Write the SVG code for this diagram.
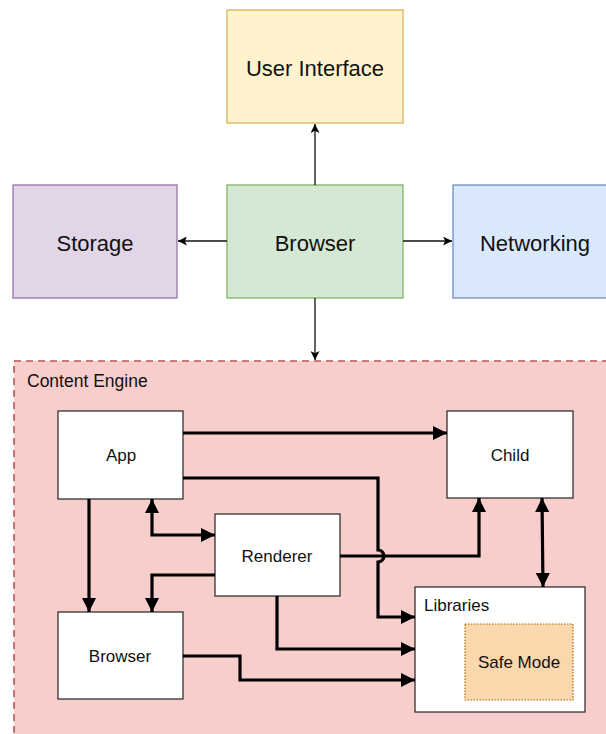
<svg xmlns="http://www.w3.org/2000/svg" width="606" height="734" viewBox="0 0 606 734">
<defs>
<style>
text{font-family:"Liberation Sans",Arial,sans-serif;fill:#111;}
.big{font-size:22px;text-anchor:middle;}
.sm{font-size:17px;text-anchor:middle;}
.lbl{font-size:17px;}
.box{fill:#fff;stroke:#333;stroke-width:1.3;}
.thin{fill:none;stroke:#111;stroke-width:1.3;}
.thick{fill:none;stroke:#000;stroke-width:3.2;stroke-linejoin:miter;}
</style>
<marker id="a" viewBox="0 0 10 10" refX="10" refY="5" markerWidth="10" markerHeight="9" markerUnits="userSpaceOnUse" orient="auto-start-reverse"><path d="M0,0 L10,5 L0,10 L2.5,5 Z" fill="#000"/></marker>
<marker id="b" viewBox="0 0 10 10" refX="10" refY="5" markerWidth="15" markerHeight="14" markerUnits="userSpaceOnUse" orient="auto-start-reverse"><path d="M0,0 L10,5 L0,10 Z" fill="#000"/></marker>
</defs>
<rect width="606" height="734" fill="#fff"/>
<g id="container">
<rect x="14" y="361" width="600" height="390" fill="#f8cecc" stroke="#b85450" stroke-width="1.6" stroke-dasharray="7,5"/>
<text class="lbl" x="27" y="387" style="font-size:17.5px">Content Engine</text>
</g>
<g id="ui"><rect x="227" y="10" width="176" height="113" fill="#fff2cc" stroke="#d6b656" stroke-width="1.3"/><text class="big" x="315" y="76">User Interface</text></g>
<g id="storage"><rect x="13" y="185" width="164" height="113" fill="#e1d5e7" stroke="#9673a6" stroke-width="1.3"/><text class="big" x="95" y="251">Storage</text></g>
<g id="browser-top"><rect x="227" y="185" width="176" height="113" fill="#d5e8d4" stroke="#82b366" stroke-width="1.3"/><text class="big" x="315" y="251">Browser</text></g>
<g id="networking"><rect x="453" y="185" width="170" height="113" fill="#dae8fc" stroke="#6c8ebf" stroke-width="1.3"/><text class="big" x="535" y="251">Networking</text></g>
<g id="app"><rect class="box" x="58" y="411" width="125" height="88"/><text class="sm" x="121" y="461">App</text></g>
<g id="child"><rect class="box" x="447" y="411" width="126" height="87"/><text class="sm" x="510" y="461">Child</text></g>
<g id="renderer"><rect class="box" x="215" y="514" width="125" height="82"/><text class="sm" x="277" y="562">Renderer</text></g>
<g id="browser-inner"><rect class="box" x="58" y="612" width="125" height="87"/><text class="sm" x="120" y="662">Browser</text></g>
<g id="libraries"><rect class="box" x="415" y="587" width="170" height="125"/><text class="lbl" x="424" y="611">Libraries</text></g>
<g id="safemode"><rect x="465" y="624" width="108" height="76" fill="#fad7ac" stroke="#b46504" stroke-width="1.2" stroke-dasharray="1.5,1.5"/><text class="sm" x="519" y="668">Safe Mode</text></g>
<g id="connectors">
<path class="thin" d="M315,185 V124" marker-end="url(#a)"/>
<path class="thin" d="M227,241 H178" marker-end="url(#a)"/>
<path class="thin" d="M403,241 H452" marker-end="url(#a)"/>
<path class="thin" d="M315,298 V360" marker-end="url(#a)"/>
<path class="thick" d="M183,433 H447" marker-end="url(#b)"/>
<path class="thick" d="M183,478 H378 V550 A6,6 0 0 1 378,562 V617 H415" marker-end="url(#b)"/>
<path class="thick" d="M152,499 V535 H215" marker-start="url(#b)" marker-end="url(#b)"/>
<path class="thick" d="M89,499 V612" marker-end="url(#b)"/>
<path class="thick" d="M215,575 H152 V612" marker-end="url(#b)"/>
<path class="thick" d="M340,556 H479 V498" marker-end="url(#b)"/>
<path class="thick" d="M277,596 V649 H415" marker-end="url(#b)"/>
<path class="thick" d="M183,656 H240 V680 H415" marker-end="url(#b)"/>
<path class="thick" d="M542,498 L543,587" marker-start="url(#b)" marker-end="url(#b)"/>
</g>
</svg>
